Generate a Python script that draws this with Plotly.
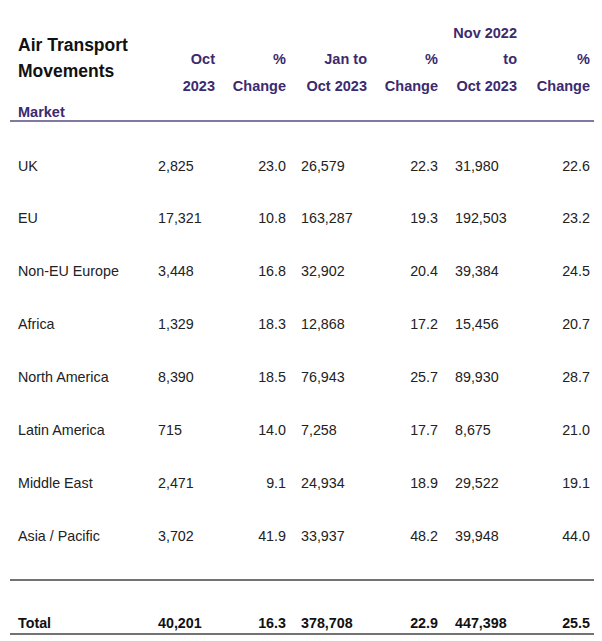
import plotly.graph_objects as go

# ---- data ----
markets = ["UK", "EU", "Non-EU Europe", "Africa", "North America",
           "Latin America", "Middle East", "Asia / Pacific"]
oct_2023 = [2825, 17321, 3448, 1329, 8390, 715, 2471, 3702]
oct_pct = [23.0, 10.8, 16.8, 18.3, 18.5, 14.0, 9.1, 41.9]
jan_oct_2023 = [26579, 163287, 32902, 12868, 76943, 7258, 24934, 33937]
jan_oct_pct = [22.3, 19.3, 20.4, 17.2, 25.7, 17.7, 18.9, 48.2]
nov22_oct23 = [31980, 192503, 39384, 15456, 89930, 8675, 29522, 39948]
nov22_oct23_pct = [22.6, 23.2, 24.5, 20.7, 28.7, 21.0, 19.1, 44.0]

total_label = "Total"
total_oct_2023 = 40201
total_oct_pct = 16.3
total_jan_oct = 378708
total_jan_oct_pct = 22.9
total_nov_oct = 447398
total_nov_oct_pct = 25.5

title_lines = ["Air Transport", "Movements"]
col_headers = [["Oct", "2023"], ["%", "Change"], ["Jan to", "Oct 2023"],
               ["%", "Change"], ["Nov 2022", "to", "Oct 2023"], ["%", "Change"]]
market_header = "Market"

# ---- layout constants (axes in window-pixel units; page body has 8px margin) ----
W, H = 602, 641
OFF = 8
DY = 2  # vertical nudge for text baseline
FONT = "Liberation Sans, Arial, sans-serif"
PURPLE = "#3c2a6e"
TEXT = "#222222"

row_y = [165 + DY + 52.86 * i for i in range(len(markets))]
total_y = 622 + DY

# column anchors: (x, textposition)
col_anchor = [(158, "middle right"), (286, "middle left"), (301, "middle right"),
              (438, "middle left"), (455, "middle right"), (590, "middle left")]
head_right = [215, 286, 367, 438, 517, 590]


def fmt_int(v):
    return f"{v:,}"


def fmt_pct(v):
    return f"{v:.1f}"


cols = [
    [fmt_int(v) for v in oct_2023],
    [fmt_pct(v) for v in oct_pct],
    [fmt_int(v) for v in jan_oct_2023],
    [fmt_pct(v) for v in jan_oct_pct],
    [fmt_int(v) for v in nov22_oct23],
    [fmt_pct(v) for v in nov22_oct23_pct],
]
totals = [fmt_int(total_oct_2023), fmt_pct(total_oct_pct), fmt_int(total_jan_oct),
          fmt_pct(total_jan_oct_pct), fmt_int(total_nov_oct), fmt_pct(total_nov_oct_pct)]

fig = go.Figure()


def add_text(xs, ys, texts, pos, size=14, color=TEXT, weight="normal"):
    fig.add_trace(go.Scatter(
        x=xs, y=ys, text=texts, mode="text", textposition=pos,
        textfont=dict(family=FONT, size=size, color=color, weight=weight),
        hoverinfo="skip", showlegend=False, cliponaxis=False))


# title
add_text([18, 18], [45 + DY, 71 + DY], title_lines, "middle right", size=17.5,
         color="#111111", weight="bold")
# market header
add_text([18], [111 + DY], [market_header], "middle right", size=14.5, color=PURPLE, weight="bold")

# column headers (bottom-aligned stacks)
header_rows = [32 + DY, 58 + DY, 85 + DY]
for hx, lines in zip(head_right, col_headers):
    ys = header_rows[-len(lines):]
    add_text([hx] * len(lines), ys, lines, "middle left", size=14.5, color=PURPLE, weight="bold")

# market names
add_text([18] * len(markets), row_y, markets, "middle right", size=14.3)

# data columns
for (cx, pos), vals in zip(col_anchor, cols):
    add_text([cx] * len(vals), row_y, vals, pos, size=14.3)

# totals
add_text([18], [total_y], [total_label], "middle right", size=14.3, color="#111111", weight="bold")
for (cx, pos), t in zip(col_anchor, totals):
    add_text([cx], [total_y], [t], pos, size=14.3, color="#111111", weight="bold")

# rules
fig.add_shape(type="line", x0=10, x1=598, y0=121, y1=121, xref="x", yref="y",
              line=dict(color="#5a4a86", width=1.5))
fig.add_shape(type="line", x0=10, x1=598, y0=580, y1=580, xref="x", yref="y",
              line=dict(color="#444444", width=1.5))
fig.add_shape(type="line", x0=10, x1=598, y0=634, y1=634, xref="x", yref="y",
              line=dict(color="#444444", width=1.5))

fig.update_layout(
    width=W - OFF, height=H - OFF, margin=dict(l=0, r=0, t=0, b=0),
    paper_bgcolor="white", plot_bgcolor="white",
    xaxis=dict(range=[OFF, W], visible=False, fixedrange=True),
    yaxis=dict(range=[H, OFF], visible=False, fixedrange=True),
)

fig.write_html("out.html")
